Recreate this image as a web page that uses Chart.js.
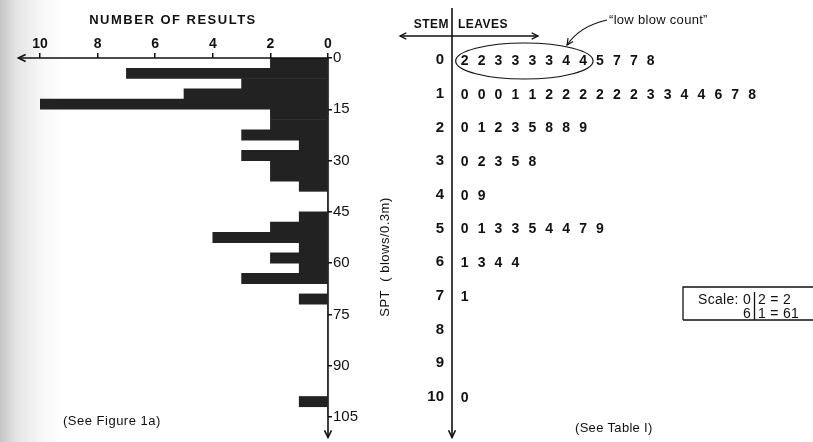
<!DOCTYPE html>
<html lang="en">
<head>
  <meta charset="UTF-8">
  <title>SPT histogram and stem-and-leaf display</title>
  <script src="https://cdn.jsdelivr.net/npm/chart.js"></script>
  <style>
    body { margin: 0; background: #fff; }
    #wrap {
      position: relative; width: 813px; height: 442px; overflow: hidden;
      /* grey scan edge on the left */
      background: linear-gradient(to right, #c4c4c4 0px, #e4e4e4 16px, #f6f6f6 40px, #fff 62px);
    }
    canvas { position: absolute; top: 0; }
    #histo { left: 0; }
    #stem { left: 360px; }
  </style>
</head>
<body>
<div id="wrap">
  <canvas id="histo" width="400" height="442"></canvas>
  <canvas id="stem" width="453" height="442"></canvas>
</div>

<script>
  // ---- left: histogram of SPT values (bins of 3 blows) ----
  const binStarts = [0, 3, 6, 9, 12, 15, 18, 21, 24, 27, 30, 33, 36, 39, 42, 45, 48, 51,
                     54, 57, 60, 63, 66, 69, 72, 75, 78, 81, 84, 87, 90, 93, 96, 99, 102];
  const resultCounts = [2, 7, 3, 5, 10, 2, 2, 3, 1, 3, 2, 2, 1, 0, 0, 1, 2, 4,
                        1, 2, 1, 3, 0, 1, 0, 0, 0, 0, 0, 0, 0, 0, 0, 1, 0];
  const countTicks = [0, 2, 4, 6, 8, 10];
  const sptTicks = [0, 15, 30, 45, 60, 75, 90, 105];

  // ---- right: stem-and-leaf display ----
  const stems = ['0', '1', '2', '3', '4', '5', '6', '7', '8', '9', '10'];
  const leaves = [
    [2, 2, 3, 3, 3, 3, 4, 4, 5, 7, 7, 8],
    [0, 0, 0, 1, 1, 2, 2, 2, 2, 2, 2, 3, 3, 4, 4, 6, 7, 8],
    [0, 1, 2, 3, 5, 8, 8, 9],
    [0, 2, 3, 5, 8],
    [0, 9],
    [0, 1, 3, 3, 5, 4, 4, 7, 9],
    [1, 3, 4, 4],
    [1],
    [],
    [],
    [0]
  ];
  const lowBlowLeaves = 8; // first 8 leaves of stem 0 are circled

  const FONT = "'Liberation Sans', Arial, sans-serif";
  const INK = '#111';

  function arrowHead(ctx, x, y, angle, size) {
    ctx.beginPath();
    ctx.moveTo(x - size * Math.cos(angle - 0.45), y - size * Math.sin(angle - 0.45));
    ctx.lineTo(x, y);
    ctx.lineTo(x - size * Math.cos(angle + 0.45), y - size * Math.sin(angle + 0.45));
    ctx.stroke();
  }

  // axes with arrows + loose texts of the histogram
  const histoExtras = {
    id: 'histoExtras',
    afterDraw(chart) {
      const ctx = chart.ctx;
      const xs = chart.scales.x, ys = chart.scales.y;
      const a = chart.chartArea;
      ctx.save();
      ctx.strokeStyle = INK;
      ctx.lineWidth = 1.6;
      // horizontal axis to the left
      const xEnd = xs.getPixelForValue(10.75);
      ctx.beginPath();
      ctx.moveTo(a.right, a.top);
      ctx.lineTo(xEnd, a.top);
      ctx.stroke();
      arrowHead(ctx, xEnd, a.top, Math.PI, 8);
      // vertical axis downwards
      const yEnd = ys.getPixelForValue(111);
      ctx.beginPath();
      ctx.moveTo(a.right, a.top - 1);
      ctx.lineTo(a.right, yEnd);
      ctx.stroke();
      arrowHead(ctx, a.right, yEnd, Math.PI / 2, 8);

      ctx.fillStyle = INK;
      ctx.font = 'bold 13px ' + FONT;
      ctx.letterSpacing = '1.5px';
      ctx.textAlign = 'center';
      ctx.textBaseline = 'middle';
      ctx.fillText('NUMBER OF RESULTS', 173, 20);
      ctx.letterSpacing = '0.5px';
      ctx.font = '13px ' + FONT;
      ctx.textAlign = 'left';
      ctx.fillText('(See Figure 1a)', 63, 421);
      ctx.restore();
    }
  };

  new Chart(document.getElementById('histo'), {
    type: 'bar',
    data: {
      datasets: [{
        data: binStarts.map((b, i) => ({ x: resultCounts[i], y: b + 1.5 })),
        backgroundColor: '#222',
        borderWidth: 0,
        barPercentage: 1,
        categoryPercentage: 1
      }]
    },
    options: {
      indexAxis: 'y',
      responsive: false,
      animation: false,
      layout: { padding: { top: 10, left: 40, right: 12, bottom: 25 } },
      plugins: { legend: { display: false }, tooltip: { enabled: false } },
      scales: {
        x: {
          type: 'linear', position: 'top', reverse: true, min: 0, max: 10,
          afterBuildTicks: s => { s.ticks = countTicks.map(v => ({ value: v })); },
          afterFit: s => { s.height = 48; },
          grid: { drawOnChartArea: false, drawTicks: true, tickLength: 5, color: INK, lineWidth: 1.5 },
          border: { display: false },
          ticks: { color: INK, font: { family: FONT, size: 14, weight: 'bold' }, padding: 0, maxRotation: 0 }
        },
        y: {
          type: 'linear', position: 'right', reverse: true, min: 0, max: 105,
          offset: false,
          afterBuildTicks: s => { s.ticks = sptTicks.map(v => ({ value: v })); },
          afterFit: s => { s.width = 60; },
          grid: { offset: false, drawOnChartArea: false, drawTicks: true, tickLength: 4, color: INK, lineWidth: 1.5 },
          border: { display: false },
          ticks: { color: INK, font: { family: FONT, size: 15 }, padding: 1 }
        }
      }
    },
    plugins: [histoExtras]
  });

  // leaves are drawn as digits at the points' positions
  const stemLeafDraw = {
    id: 'stemLeafDraw',
    afterDatasetsDraw(chart) {
      const ctx = chart.ctx;
      const a = chart.chartArea;
      const xs = chart.scales.x, ys = chart.scales.y;
      const meta = chart.getDatasetMeta(0);
      const raw = chart.data.datasets[0].data;
      ctx.save();
      ctx.fillStyle = INK;
      ctx.strokeStyle = INK;
      ctx.font = 'bold 14px ' + FONT;
      ctx.textAlign = 'center';
      ctx.textBaseline = 'middle';
      meta.data.forEach((el, i) => ctx.fillText(String(raw[i].leaf), el.x, el.y + 1));

      // stem axis with arrow
      ctx.lineWidth = 1.6;
      const axX = a.left;
      const yEnd = ys.getPixelForValue(11.2);
      ctx.beginPath();
      ctx.moveTo(axX, 8);
      ctx.lineTo(axX, yEnd);
      ctx.stroke();
      arrowHead(ctx, axX, yEnd, Math.PI / 2, 8);

      // header with double arrow
      ctx.font = 'bold 12px ' + FONT;
      ctx.letterSpacing = '0.5px';
      ctx.textAlign = 'right';
      ctx.fillText('STEM', axX - 3, 25);
      ctx.textAlign = 'left';
      ctx.fillText('LEAVES', axX + 6, 25);
      ctx.lineWidth = 1.3;
      ctx.beginPath();
      ctx.moveTo(40, 36);
      ctx.lineTo(178, 36);
      ctx.stroke();
      arrowHead(ctx, 40, 36, Math.PI, 7);
      arrowHead(ctx, 178, 36, 0, 7);

      // ellipse round the low blow counts
      const y0 = ys.getPixelForValue(0);
      const xl = xs.getPixelForValue(0) - 9;
      const xr = xs.getPixelForValue(lowBlowLeaves - 1) + 10;
      ctx.lineWidth = 1.2;
      ctx.beginPath();
      ctx.ellipse((xl + xr) / 2, y0 + 1, (xr - xl) / 2, 18, 0, 0, Math.PI * 2);
      ctx.stroke();

      // label and curved pointer
      ctx.font = '13px ' + FONT;
      ctx.letterSpacing = '0.3px';
      ctx.textAlign = 'left';
      ctx.fillText('\u201Clow blow count\u201D', 249, 20);
      ctx.beginPath();
      ctx.moveTo(247, 20);
      ctx.quadraticCurveTo(220, 26, 207, 45);
      ctx.stroke();
      arrowHead(ctx, 207, 45, Math.atan2(45 - 26, 207 - 220), 7);

      // vertical axis title
      ctx.save();
      ctx.translate(25, 257);
      ctx.rotate(-Math.PI / 2);
      ctx.textAlign = 'center';
      ctx.font = '13px ' + FONT;
      ctx.letterSpacing = '0.5px';
      ctx.fillText('SPT  ( blows/0.3m)', 0, 0);
      ctx.restore();

      // scale key box
      ctx.lineWidth = 1.3;
      ctx.beginPath();
      ctx.moveTo(323, 320);
      ctx.lineTo(323, 287);
      ctx.lineTo(460, 287);
      ctx.moveTo(323, 320);
      ctx.lineTo(460, 320);
      ctx.stroke();
      ctx.font = '14px ' + FONT;
      ctx.letterSpacing = '0.3px';
      ctx.textAlign = 'right';
      ctx.fillText('Scale: 0', 391, 300);
      ctx.fillText('6', 391, 314);
      ctx.textAlign = 'left';
      ctx.fillText('2 = 2', 398, 300);
      ctx.fillText('1 = 61', 398, 314);
      ctx.beginPath();
      ctx.moveTo(394.5, 292);
      ctx.lineTo(394.5, 320);
      ctx.stroke();

      ctx.font = '13px ' + FONT;
      ctx.fillText('(See Table I)', 215, 428);
      ctx.restore();
    }
  };

  const leafPoints = [];
  leaves.forEach((row, s) => row.forEach((leaf, j) => leafPoints.push({ x: j, y: stems[s], leaf: leaf })));

  new Chart(document.getElementById('stem'), {
    type: 'scatter',
    data: { datasets: [{ data: leafPoints, pointRadius: 0, pointHoverRadius: 0 }] },
    options: {
      responsive: false,
      animation: false,
      layout: { padding: { top: 60, bottom: 45, left: 32, right: 0 } },
      plugins: { legend: { display: false }, tooltip: { enabled: false } },
      scales: {
        x: { type: 'linear', display: false, min: -0.75, max: 20.6 },
        y: {
          type: 'category', labels: stems, position: 'left', offset: false,
          afterFit: s => { s.width = 60; },
          grid: { display: false, drawTicks: false },
          border: { display: false },
          ticks: { color: INK, autoSkip: false, padding: 8, font: { family: FONT, size: 15, weight: 'bold' } }
        }
      }
    },
    plugins: [stemLeafDraw]
  });
</script>
</body>
</html>
